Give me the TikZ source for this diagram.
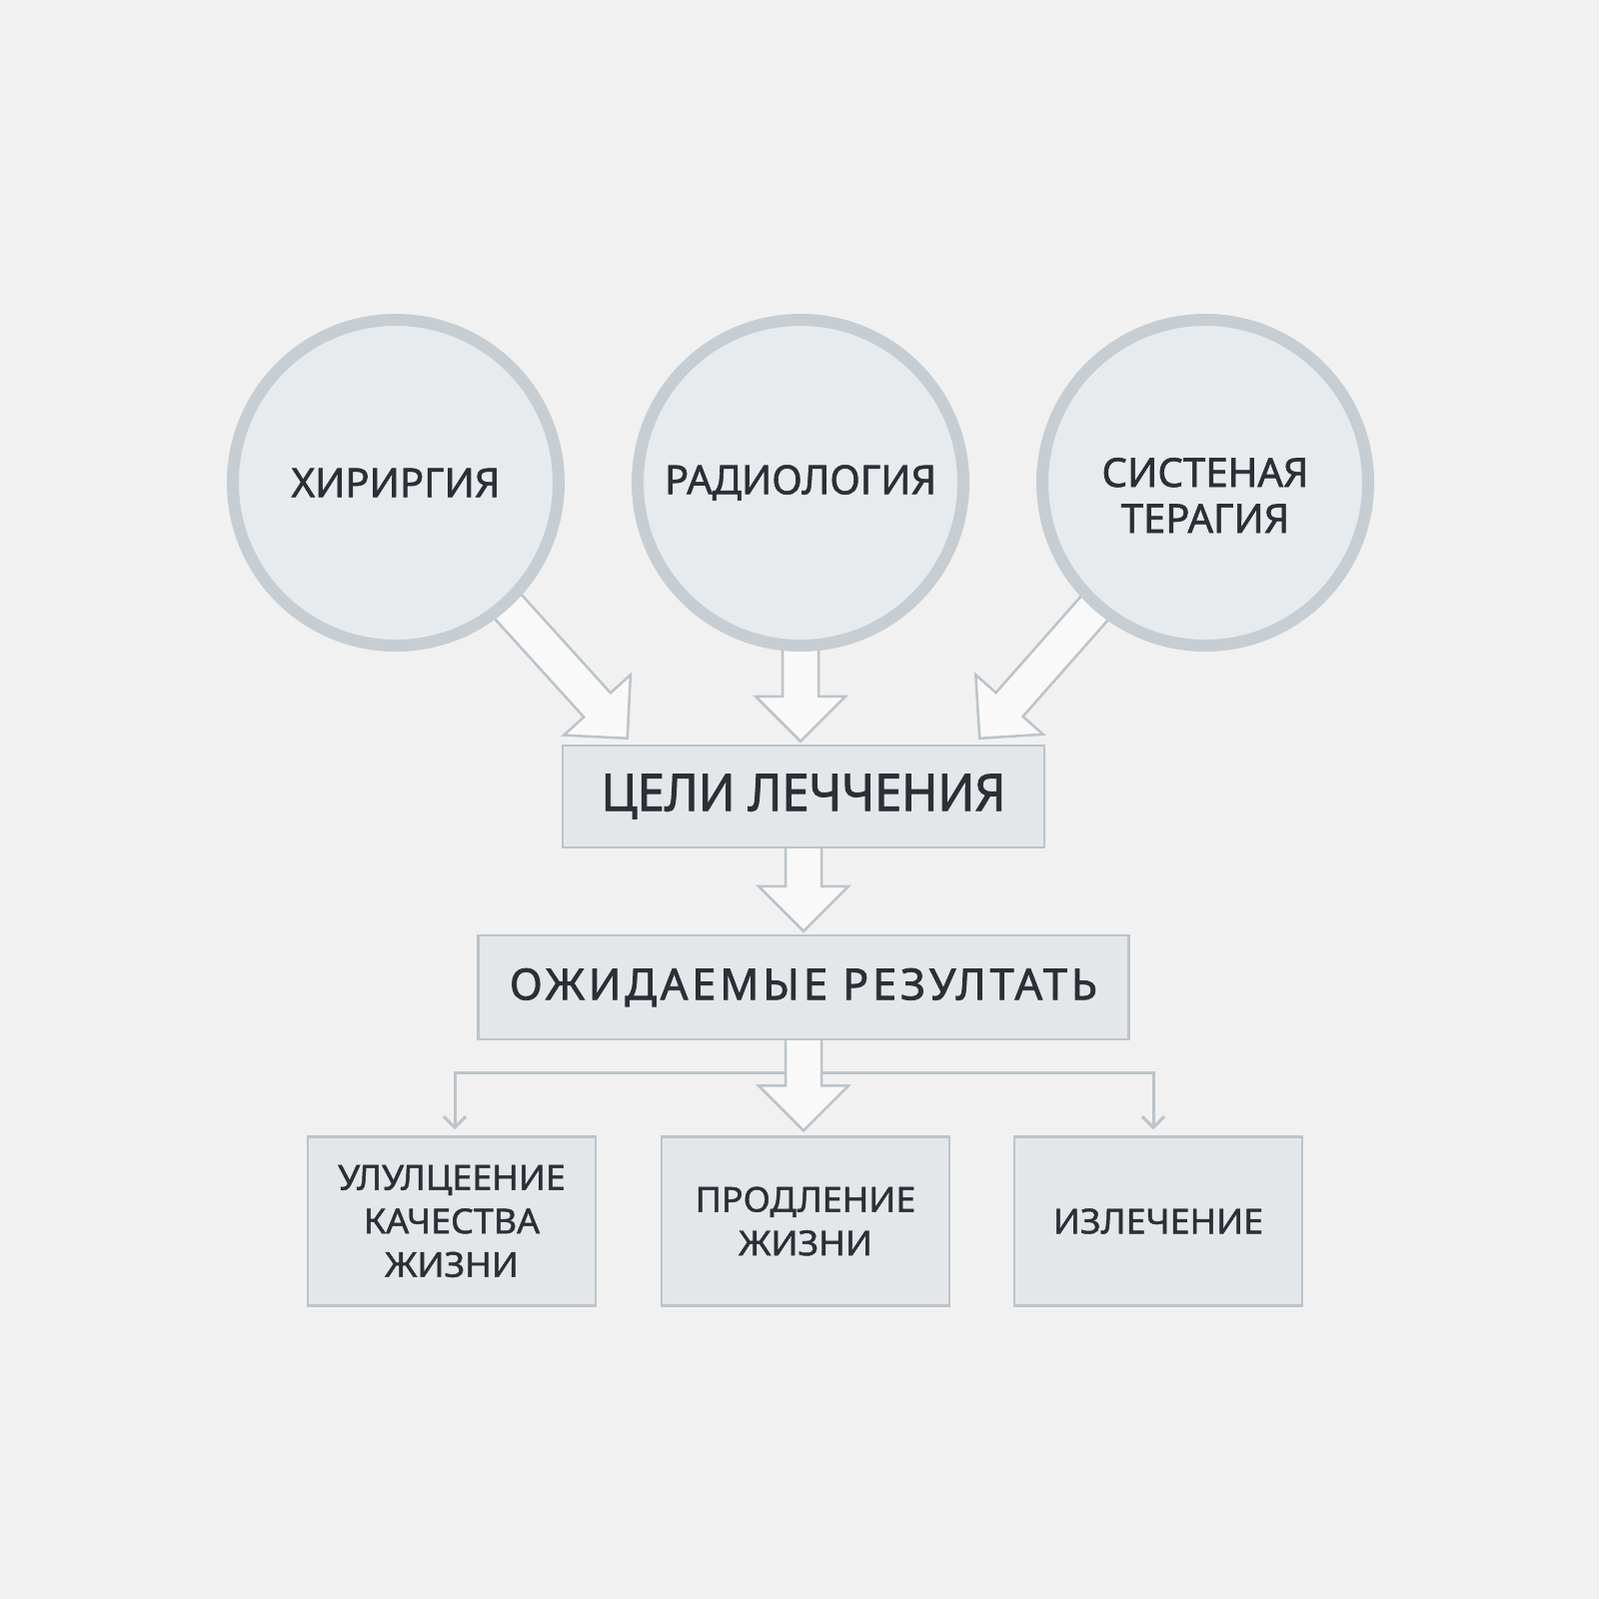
\documentclass[tikz,border=0pt]{standalone}
\usepackage{fontspec}
\setmainfont{Noto Sans}
\newfontfamily\medfont[FakeBold=1.5]{Noto Sans}
\newfontfamily\goalfont[FakeBold=1.8,FakeStretch=0.95]{Noto Sans}
\newfontfamily\spacedfont[FakeBold=1.8,LetterSpace=9]{Noto Sans}
\newfontfamily\smallfont[FakeBold=1.3,FakeStretch=1.04]{Noto Sans}
\usepackage{tikz}
\usetikzlibrary{arrows.meta, positioning, calc, backgrounds}

\definecolor{paper}{HTML}{F1F1F1}
\definecolor{ring}{HTML}{C6CED4}
\definecolor{disc}{HTML}{E8EBEE}
\definecolor{boxfill}{HTML}{E4E7EA}
\definecolor{boxline}{HTML}{BCC4CA}
\definecolor{ink}{HTML}{2B3036}

% block arrow from #1 to tip #2
\newcommand{\fatarrow}[2]{%
  \coordinate (hb) at ($(#2)!4.5mm!(#1)$);
  \draw[fat arrow] ($(#1)!1.8mm!90:(#2)$) -- ($(hb)!1.8mm!90:(#2)$)
    -- ($(hb)!4.5mm!90:(#2)$) -- (#2) -- ($(hb)!4.5mm!-90:(#2)$)
    -- ($(hb)!1.8mm!-90:(#2)$) -- ($(#1)!1.8mm!-90:(#2)$) -- cycle;}

\begin{document}
\begin{tikzpicture}[x=0.1mm,y=-0.1mm,
        method/.style={circle,draw=ring,fill=disc,line width=1.2mm,minimum size=32.6mm,
          inner sep=0pt,align=center,text=ink,font=\medfont\fontsize{11.4}{13.1}\selectfont},
        goalbox/.style={rectangle,draw=boxline,fill=boxfill,line width=0.25mm,inner sep=0pt,
          text=ink,font=\goalfont\fontsize{14.6}{18}\selectfont},
        result/.style={rectangle,draw=boxline,fill=boxfill,line width=0.25mm,inner sep=0pt,
          minimum width=28.8mm,minimum height=16.9mm,align=center,text=ink,
          font=\smallfont\fontsize{9.8}{12.4}\selectfont},
        fat arrow/.style={draw=boxline,fill=white!60!paper,line width=0.25mm,line join=miter},
        thin arrow/.style={draw=boxline,line width=0.3mm,-{Straight Barb[length=1.1mm,width=2.2mm]},
          shorten >=0.6mm}]

  \useasboundingbox (0,0) rectangle (1600,1600);

  \node[method] (c_1) at (396,483) {ХИРИРГИЯ};
  \node[method] (c_2) at (801,483) {РАДИОЛОГИЯ};
  \node[method] (c_3) at (1206,483)
    {\raisebox{-2.75mm}[0pt][0pt]{\begin{tabular}{@{}c@{}}СИСТЕНАЯ\\ТЕРАГИЯ\end{tabular}}};

  \node[goalbox,minimum width=48.2mm,minimum height=10.2mm] (goal) at (804,797) {ЦЕЛИ ЛЕЧЧЕНИЯ};
  \node[goalbox,minimum width=65.1mm,minimum height=10.4mm,
        font=\spacedfont\fontsize{12.3}{15}\selectfont] (exp) at (804,988) {ОЖИДАЕМЫЕ РЕЗУЛТАТЬ};

  \node[result] (r_1) at (452,1222) {УЛУЛЦЕЕНИЕ\\КАЧЕСТВА\\ЖИЗНИ};
  \node[result] (r_2) at (806,1222) {ПРОДЛЕНИЕ\\ЖИЗНИ};
  \node[result] (r_3) at (1159,1222) {ИЗЛЕЧЕНИЕ};

  \coordinate (t_l) at ([xshift=6.6mm,yshift=0.6mm]goal.north west);
  \coordinate (t_m) at ([yshift=0.3mm]c_2 |- goal.north);
  \coordinate (t_r) at ([xshift=-6.6mm,yshift=0.6mm]goal.north east);
  \coordinate (t_g) at ([yshift=0.3mm]goal |- exp.north);
  \coordinate (t_e) at ([yshift=0.5mm]exp |- r_2.north);
  \coordinate (split) at (804,1073);

  \begin{pgfonlayer}{background}
    \fill[paper] (0,0) rectangle (1600,1600);
    \draw[thin arrow] (split) -| ([xshift=0.3mm]r_1.north);
    \draw[thin arrow] (split) -| ([xshift=-0.5mm]r_3.north);
    \fatarrow{c_1}{t_l}
    \fatarrow{c_2}{t_m}
    \fatarrow{c_3}{t_r}
    \fatarrow{goal}{t_g}
    \fatarrow{exp}{t_e}
  \end{pgfonlayer}
\end{tikzpicture}
\end{document}
